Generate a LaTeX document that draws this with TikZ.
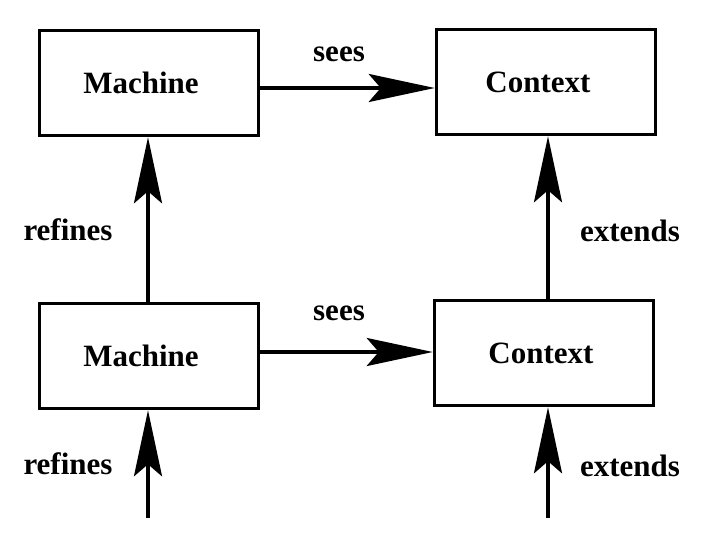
\documentclass[tikz,border=0pt]{standalone}
\usepackage{fontspec}
\setmainfont{Liberation Serif}
\usetikzlibrary{arrows.meta}
\begin{document}
\begin{tikzpicture}[x=1pt,y=-1pt,
  box/.style={draw,line width=3.5pt,minimum width=219pt,minimum height=105pt,inner sep=0pt,
    font=\fontsize{31}{35}\selectfont\bfseries},
  lbl/.style={font=\fontsize{31}{35}\selectfont\bfseries,inner sep=0pt},
  arr/.style={line width=3.5pt,-{Stealth[length=66pt,width=28pt,inset=12pt]}}]
\useasboundingbox (0,0) rectangle (714,548);
\node[box] (M1) at (149,83) {Machine\hspace*{16pt}};
\node[box] (C1) at (546,82) {Context\hspace*{16pt}};
\node[box] (M2) at (149,356) {Machine\hspace*{16pt}};
\node[box] (C2) at (544,353) {Context\hspace*{6pt}};
\coordinate (tl) at (148,518);
\coordinate (tr) at (548,518);
\draw[arr] ([yshift=-5pt]M1.east) -- ([yshift=-5pt]M1.east -| C1.west);
\draw[arr] ([yshift=4pt]M2.east) -- ([yshift=4pt]M2.east -| C2.west);
\draw[arr] (M2.north -| tl) -- (M1.south -| tl);
\draw[arr] (C2.north -| tr) -- (C1.south -| tr);
\draw[arr] (tl) -- (M2.south -| tl);
\draw[arr] (tr) -- (C2.south -| tr);
\node[lbl,anchor=base] (s1) at (339,62) {sees};
\node[lbl,anchor=base] (s2) at (339,320) {sees};
\node[lbl,anchor=base] (r1) at (68,240) {refines};
\node[lbl,anchor=base] (r2) at (68,474) {refines};
\node[lbl,anchor=base] (e1) at (630,241) {extends};
\node[lbl,anchor=base] (e2) at (630,476) {extends};
\end{tikzpicture}
\end{document}
